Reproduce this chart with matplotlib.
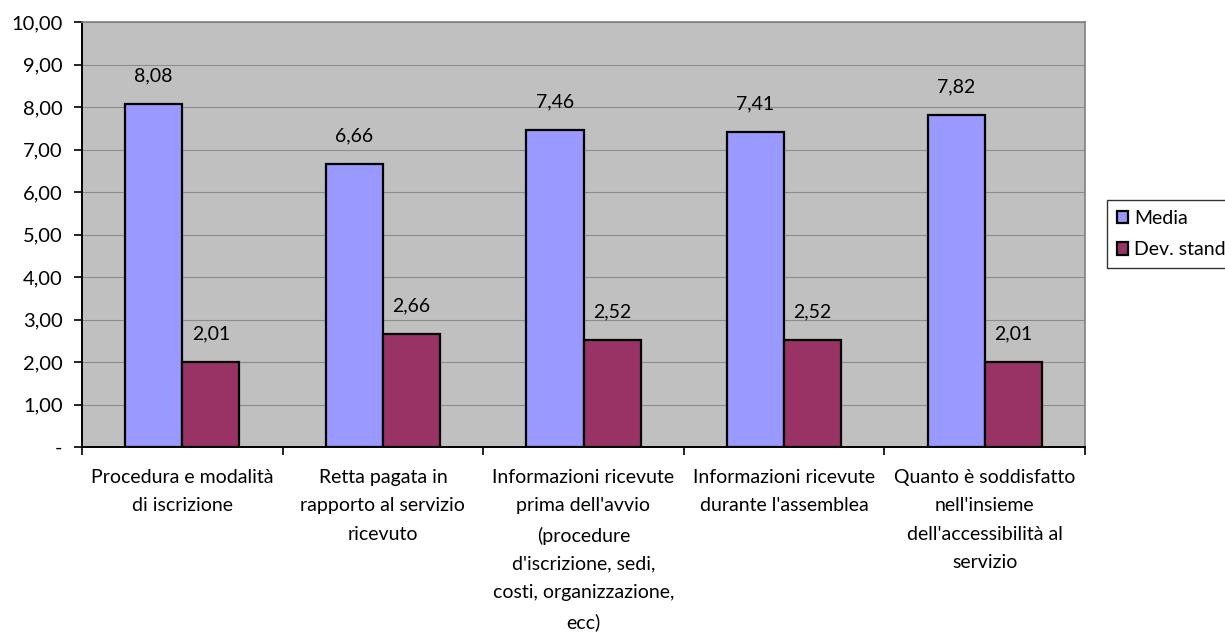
import numpy as np
import matplotlib
matplotlib.use('Agg')
import matplotlib.pyplot as plt
from matplotlib.ticker import FixedLocator, FuncFormatter

plt.rcParams['font.family'] = ['Lato', 'DejaVu Sans']

# Dati del grafico
categorie = [
    "Procedura e modalità\ndi iscrizione",
    "Retta pagata in\nrapporto al servizio\nricevuto",
    "Informazioni ricevute\nprima dell'avvio\n(procedure\nd'iscrizione, sedi,\ncosti, organizzazione,\necc)",
    "Informazioni ricevute\ndurante l'assemblea",
    "Quanto è soddisfatto\nnell'insieme\ndell'accessibilità al\nservizio",
]
media = [8.08, 6.66, 7.46, 7.41, 7.82]
dev_stand = [2.01, 2.66, 2.52, 2.52, 2.01]

COL_MEDIA = '#9999FF'
COL_DEV = '#993366'
BG_PLOT = '#C0C0C0'
FS = 14

fig = plt.figure(figsize=(12.25, 6.32), dpi=100)
ax = fig.add_axes([82 / 1225, 1 - 447 / 632, (1085 - 82) / 1225, (447 - 22) / 632])
ax.set_facecolor(BG_PLOT)

x = np.arange(len(categorie))
w = 0.285
b1 = ax.bar(x - w / 2, media, w, color=COL_MEDIA, edgecolor='black', linewidth=1.6,
            label='Media', zorder=3)
b2 = ax.bar(x + w / 2, dev_stand, w, color=COL_DEV, edgecolor='black', linewidth=1.6,
            label='Dev. stand', zorder=3)

fmt = lambda v: f'{v:.2f}'.replace('.', ',')
for bars, vals in ((b1, media), (b2, dev_stand)):
    for bar, v in zip(bars, vals):
        ax.annotate(fmt(v), (bar.get_x() + bar.get_width() / 2, v),
                    xytext=(0, 14), textcoords='offset points',
                    ha='center', va='bottom', fontsize=FS)

ax.set_xlim(-0.5, len(categorie) - 0.5)
ax.set_ylim(0, 10)
ax.set_yticks(np.arange(0, 11, 1))
ax.yaxis.set_major_formatter(FuncFormatter(lambda v, p: '-' if v == 0 else fmt(v)))
ax.grid(axis='y', color='#8C8C8C', linewidth=0.8, zorder=0)

ax.xaxis.set_major_locator(FixedLocator(np.arange(-0.5, len(categorie), 1)))
ax.xaxis.set_major_formatter(FuncFormatter(lambda v, p: ''))
ax.set_xticks(x, minor=True)
ax.set_xticklabels(categorie, minor=True, fontsize=FS, linespacing=1.8, va='top')
ax.tick_params(axis='x', which='minor', length=0, pad=16)
ax.tick_params(axis='x', which='major', length=6, width=1.2, direction='out')
ax.tick_params(axis='y', length=6, width=1.2, direction='out', labelsize=FS + 0.5, pad=8)

for side in ('top', 'right'):
    ax.spines[side].set_color('#808080')
    ax.spines[side].set_linewidth(1.2)
for side in ('left', 'bottom'):
    ax.spines[side].set_color('black')
    ax.spines[side].set_linewidth(1.4)

leg = fig.legend(handles=[b1, b2], loc='upper left', bbox_to_anchor=(1107 / 1225, 1 - 200 / 632),
                 frameon=True, fancybox=False, edgecolor='black', fontsize=FS,
                 handlelength=0.6, handleheight=0.6, handletextpad=0.3,
                 borderpad=0.5, labelspacing=0.75, borderaxespad=0)
leg.get_frame().set_linewidth(1.0)

fig.savefig('out.png', dpi=100, facecolor='white')
